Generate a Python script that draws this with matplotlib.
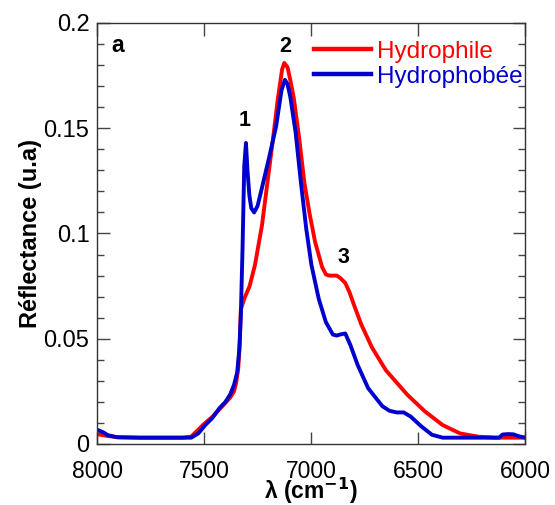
import matplotlib
matplotlib.use("Agg")
import matplotlib.pyplot as plt
from matplotlib.ticker import MultipleLocator

plt.rcParams['font.family'] = ['Liberation Sans', 'DejaVu Sans']

# Hydrophile (red)
wn_phile = [8000, 7950, 7900, 7800, 7700, 7600, 7560, 7530, 7500, 7460, 7428, 7400,
            7378, 7360, 7350, 7340, 7333, 7328, 7312, 7287, 7262, 7229, 7204, 7180,
            7155, 7135, 7125, 7110, 7095, 7080, 7055, 7031, 7006, 6981, 6948, 6930,
            6915, 6880, 6865, 6840, 6820, 6799, 6766, 6716, 6650, 6551, 6468, 6385,
            6303, 6220, 6137, 6000]
r_phile = [0.0047, 0.0038, 0.0032, 0.003, 0.003, 0.003, 0.0035, 0.0065, 0.0095, 0.013,
           0.0165, 0.0195, 0.022, 0.025, 0.029, 0.036, 0.048, 0.064, 0.069, 0.075,
           0.085, 0.104, 0.124, 0.143, 0.164, 0.178, 0.181, 0.179, 0.172, 0.164,
           0.145, 0.124, 0.109, 0.096, 0.084, 0.0805, 0.080, 0.080, 0.079, 0.0765,
           0.072, 0.066, 0.057, 0.046, 0.035, 0.0235, 0.0155, 0.009, 0.005, 0.0035,
           0.003, 0.003]

# Hydrophobee (blue)
wn_phobe = [8000, 7970, 7950, 7907, 7800, 7700, 7600, 7560, 7527, 7494, 7460, 7428,
            7400, 7378, 7360, 7345, 7335, 7328, 7320, 7312, 7304, 7297, 7288, 7279,
            7266, 7250, 7238, 7196, 7163, 7138, 7122, 7110, 7097, 7072, 7047, 7022,
            6998, 6964, 6931, 6898, 6880, 6865, 6840, 6816, 6782, 6733, 6667, 6634,
            6600, 6567, 6534, 6485, 6435, 6385, 6200, 6121, 6105, 6080, 6055, 6030,
            6000]
r_phobe = [0.0068, 0.0055, 0.0042, 0.0032, 0.003, 0.003, 0.003, 0.003, 0.005, 0.009,
           0.0125, 0.017, 0.020, 0.0235, 0.028, 0.034, 0.045, 0.061, 0.093, 0.132,
           0.143, 0.130, 0.118, 0.112, 0.110, 0.113, 0.118, 0.136, 0.151, 0.168,
           0.173, 0.171, 0.165, 0.148, 0.124, 0.102, 0.085, 0.069, 0.058, 0.052,
           0.0515, 0.052, 0.0525, 0.047, 0.0375, 0.0265, 0.018, 0.0158, 0.015, 0.015,
           0.013, 0.0084, 0.0044, 0.003, 0.003, 0.003, 0.0045, 0.0047, 0.0046, 0.0037,
           0.003]

peak_labels = ["1", "2", "3"]
peak_x = [7308, 7121, 6850]
peak_y = [0.1539, 0.1886, 0.0888]

fig = plt.figure(figsize=(5.55, 5.05), dpi=100)
ax = fig.add_axes([0.1748, 0.1208, 0.7712, 0.8337])

ax.plot(wn_phile, r_phile, color="#ff0000", lw=2.8, label="Hydrophile")
ax.plot(wn_phobe, r_phobe, color="#0000cc", lw=2.8, label="Hydrophobée")

ax.set_xlim(8000, 6000)
ax.set_ylim(0, 0.2)
ax.set_xticks([8000, 7500, 7000, 6500, 6000])
ax.set_xticklabels(["8000", "7500", "7000", "6500", "6000"])
ax.set_yticks([0, 0.05, 0.1, 0.15, 0.2])
ax.set_yticklabels(["0", "0.05", "0.1", "0.15", "0.2"])
ax.yaxis.set_minor_locator(MultipleLocator(0.01))
ax.tick_params(axis="both", which="major", direction="in", length=9, width=1,
               color="#444444", labelsize=17, top=True, right=True)
ax.tick_params(axis="x", which="major", pad=11.5, labelsize=16.5)
ax.tick_params(axis="y", which="major", pad=5.5)
ax.tick_params(axis="y", which="minor", direction="in", length=5, width=1,
               color="#444444", right=True)
for s in ax.spines.values():
    s.set_linewidth(1)
    s.set_color("#333333")

ax.set_xlabel("λ (cm$^{\\mathbf{-1}}$)", fontsize=16.5, fontweight="bold", labelpad=-5)
ax.set_ylabel("Réflectance (u.a)", fontsize=17, fontweight="bold", labelpad=1)

ax.text(7902, 0.1895, "a", fontsize=16.5, fontweight="bold", ha="center", va="center")
for lab, px, py in zip(peak_labels, peak_x, peak_y):
    ax.text(px, py, lab, fontsize=15.5, fontweight="bold", ha="center", va="center")

leg = ax.legend(loc="upper left", bbox_to_anchor=(0.507, 0.958), frameon=False,
                fontsize=17.5, handlelength=2.35, handletextpad=0.25, labelspacing=0.12,
                borderaxespad=0, borderpad=0)
for txt, line in zip(leg.get_texts(), leg.get_lines()):
    txt.set_color(line.get_color())
    line.set_linewidth(3.2)

fig.savefig("out.png", dpi=100)
plt.close(fig)
